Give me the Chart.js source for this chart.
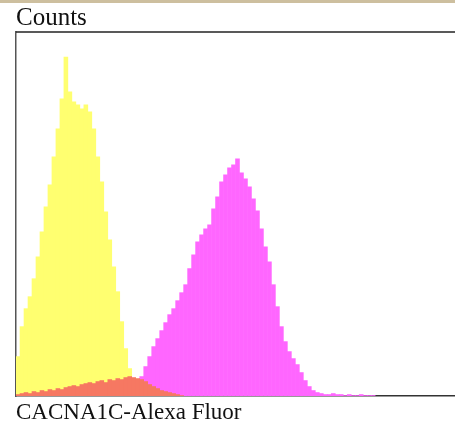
<!DOCTYPE html>
<html>
<head>
<meta charset="utf-8">
<script src="https://cdn.jsdelivr.net/npm/chart.js@4.4.0/dist/chart.umd.min.js"></script>
<style>
html,body{margin:0;padding:0;background:#fff;overflow:hidden;}
#top{height:3px;background:#cdbf9f;}
#wrap{width:455px;height:421px;position:relative;}
</style>
</head>
<body>
<div id="top"></div>
<div id="wrap"><canvas id="c"></canvas></div>
<script>
// channel bins (fluorescence intensity channel)
const channels = Array.from({length: 110}, (_, i) => i);
// Isotype / unstained control (yellow)
const yellowCounts = [40,70,88,100,118,140,165,190,212,240,268,298,340,305,295,292,288,292,285,268,240,215,185,157,130,105,75,48,28,6,
  0,0,0,0,0,0,0,0,0,0,0,0,0,0,0,0,0,0,0,0,0,0,0,0,0,0,0,0,0,0,0,0,0,0,0,0,0,0,0,0,0,0,0,0,0,0,0,0,0,0,
  0,0,0,0,0,0,0,0,0,0,0,0,0,0,0,0,0,0,0,0,0,0,0,0,0,0,0,0,0,0];
// CACNA1C stained sample (magenta)
const magentaCounts = [0,0,0,0,0,0,0,0,0,0,0,0,0,0,0,0,0,0,0,0,0,0,0,0,0,0,0,0,0,0,
  8,20,30,40,50,58,66,74,82,88,96,104,112,128,142,155,162,168,172,188,200,215,222,229,232,238,224,218,210,198,
  186,168,150,135,112,90,70,55,45,38,32,24,16,10,6,4,3,2,2,3,2,2,1,2,1,1,2,1,1,1,
  0,0,0,0,0,0,0,0,0,0,0,0,0,0,0,0,0,0,0,0];
// secondary-only control (salmon)
const redCounts = [2,3,4,3,5,4,6,5,7,6,8,7,9,10,11,10,12,13,14,13,15,16,14,17,16,18,17,19,20,19,
  18,17,15,12,10,8,6,5,4,3,2,1,0,0,0,0,0,0,0,0,0,0,0,0,0,0,0,0,0,0,
  0,0,0,0,0,0,0,0,0,0,0,0,0,0,0,0,0,0,0,0,0,0,0,0,0,0,0,0,0,0,
  0,0,0,0,0,0,0,0,0,0,0,0,0,0,0,0,0,0,0,0];
const yMax = 365;
const yTitle = 'Counts';
const xTitle = 'CACNA1C-Alexa Fluor';

const frameTop = {
  id: 'frameTop',
  afterDraw(chart) {
    const {ctx, chartArea} = chart;
    ctx.save();
    ctx.strokeStyle = '#222';
    ctx.lineWidth = 1.5;
    ctx.beginPath();
    ctx.moveTo(chartArea.left, chartArea.top);
    ctx.lineTo(chart.width, chartArea.top);
    ctx.stroke();
    ctx.restore();
  }
};

const bar = (data, color) => ({
  data, backgroundColor: color, borderWidth: 0, inflateAmount: 0.3,
  barPercentage: 1.0, categoryPercentage: 1.0, grouped: false
});

new Chart(document.getElementById('c'), {
  type: 'bar',
  data: {
    labels: channels,
    datasets: [
      bar(redCounts, 'rgb(246,120,98)'),
      bar(magentaCounts, 'rgb(255,102,255)'),
      bar(yellowCounts, 'rgb(255,255,112)')
    ]
  },
  options: {
    responsive: true,
    maintainAspectRatio: false,
    animation: false,
    layout: {padding: {left: 16, right: 0, top: 0, bottom: 0}},
    plugins: {
      legend: {display: false},
      tooltip: {enabled: false},
      title: {
        display: true, text: yTitle, align: 'start', color: '#111',
        font: {family: 'Liberation Serif', size: 25, weight: 'normal', lineHeight: 1.0},
        padding: {top: 3, bottom: 1}
      }
    },
    scales: {
      x: {
        ticks: {display: false},
        grid: {display: false},
        border: {display: true, color: '#333', width: 1.5},
        title: {
          display: true, text: xTitle, align: 'start', color: '#111',
          font: {family: 'Liberation Serif', size: 23, weight: 'normal', lineHeight: 1.0},
          padding: {top: 4, bottom: 0}
        },
        afterFit(s) { s.height = 28; }
      },
      y: {
        min: 0.5, max: yMax,
        ticks: {display: false},
        grid: {display: false},
        border: {display: true, color: '#555', width: 1.5},
        afterFit(s) { s.width = 0; }
      }
    }
  },
  plugins: [frameTop]
});
</script>
</body>
</html>
